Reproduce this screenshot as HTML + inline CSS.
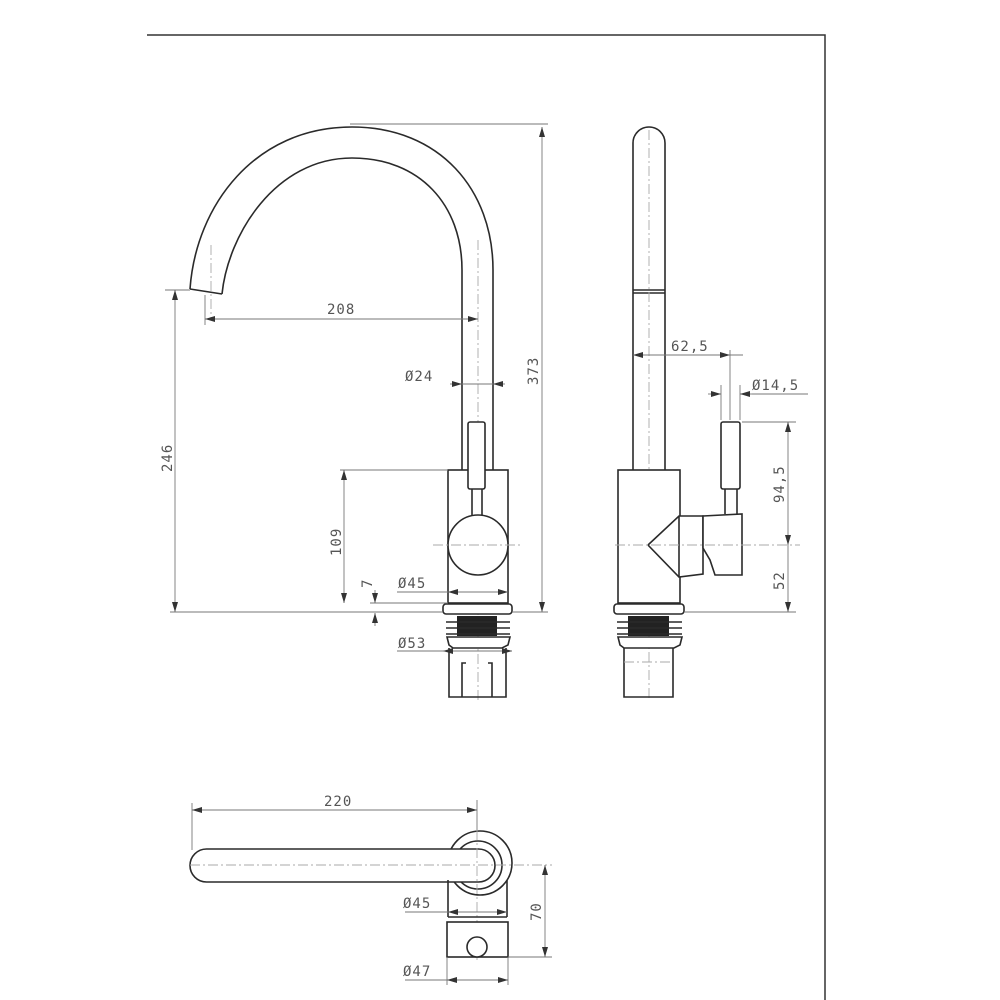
<!DOCTYPE html>
<html><head><meta charset="utf-8"><style>
html,body{margin:0;padding:0;background:#fff;}
svg{display:block;}
.o{fill:none;stroke:#2a2a2a;stroke-width:1.6;}
.ow{fill:#fff;stroke:#2a2a2a;stroke-width:1.6;}
.d{fill:none;stroke:#777;stroke-width:0.9;}
.c{fill:none;stroke:#aaa;stroke-width:0.9;stroke-dasharray:10 3 2 3;}
text{font-family:"DejaVu Sans Mono","Liberation Mono",monospace;font-size:14px;fill:#555;letter-spacing:1px;}
</style></head><body>
<svg width="1000" height="1000" viewBox="0 0 1000 1000">
<defs>
<marker id="a" viewBox="0 0 10 6" refX="10" refY="3" markerWidth="10" markerHeight="6" orient="auto-start-reverse" markerUnits="userSpaceOnUse"><path d="M0,0 L10,3 L0,6 z" fill="#333"/></marker>
</defs>
<!-- frame -->
<path d="M147,35 L825,35 L825,1000" fill="none" stroke="#333" stroke-width="1.5"/>

<!-- ===== LEFT VIEW ===== -->
<path class="o" d="M190,289 C196,205 255,127 352,127 C440,127 493,190 493,270 L493,470"/>
<path class="o" d="M222,294 C228,235 275,158 352,158 C420,158 462,205 462,270 L462,470"/>
<path class="o" d="M190,289 L222,294"/>
<line class="c" x1="211" y1="245" x2="211" y2="320"/>
<line class="c" x1="478" y1="240" x2="478" y2="700"/>
<!-- body -->
<rect class="ow" x="448" y="470" width="60" height="133"/>
<rect class="ow" x="468" y="422" width="17" height="67" rx="2"/>
<line class="o" x1="472" y1="489" x2="472" y2="515"/><line class="o" x1="482" y1="489" x2="482" y2="515"/>
<circle class="ow" cx="478" cy="545" r="30"/>
<line class="c" x1="433" y1="545" x2="522" y2="545"/>
<!-- base left -->
<rect class="ow" x="443" y="604" width="69" height="10" rx="3"/>
<rect x="457" y="616" width="40" height="20" fill="#222"/>
<line class="o" x1="446" y1="622" x2="510" y2="622"/><line class="o" x1="446" y1="628" x2="510" y2="628"/><line class="o" x1="446" y1="634" x2="510" y2="634"/>
<path class="ow" d="M447,637 L510,637 L508,645 L502,648 L453,648 L449,645 z"/>
<path class="o" d="M449,648 L449,697 L506,697 L506,648"/>
<path class="o" d="M462,697 L462,663 L466,663 M492,697 L492,663 L488,663"/>

<!-- left dims -->
<line class="d" x1="350" y1="124" x2="548" y2="124"/>
<line class="d" x1="542" y1="127" x2="542" y2="612" marker-start="url(#a)" marker-end="url(#a)"/>
<text transform="translate(538,385) rotate(-90)">373</text>
<line class="d" x1="165" y1="290" x2="190" y2="290"/>
<line class="d" x1="175" y1="290" x2="175" y2="612" marker-start="url(#a)" marker-end="url(#a)"/>
<text transform="translate(172,472) rotate(-90)">246</text>
<line class="d" x1="170" y1="612" x2="443" y2="612"/>
<line class="d" x1="512" y1="612" x2="548" y2="612"/>
<line class="d" x1="205" y1="295" x2="205" y2="325"/>
<line class="d" x1="205" y1="319" x2="478" y2="319" marker-start="url(#a)" marker-end="url(#a)"/>
<text x="327" y="314">208</text>
<line class="d" x1="450" y1="384" x2="462" y2="384" marker-end="url(#a)"/>
<line class="d" x1="505" y1="384" x2="493" y2="384" marker-end="url(#a)"/>
<line class="d" x1="462" y1="384" x2="493" y2="384"/>
<text x="405" y="381">Ø24</text>
<line class="d" x1="340" y1="470" x2="448" y2="470"/>
<line class="d" x1="344" y1="470" x2="344" y2="603" marker-start="url(#a)" marker-end="url(#a)"/>
<text transform="translate(341,556) rotate(-90)">109</text>
<line class="d" x1="370" y1="603" x2="448" y2="603"/>
<line class="d" x1="375" y1="590" x2="375" y2="603" marker-end="url(#a)"/>
<line class="d" x1="375" y1="626" x2="375" y2="613" marker-end="url(#a)"/>
<text transform="translate(372,588) rotate(-90)">7</text>
<line class="d" x1="397" y1="592" x2="448" y2="592"/>
<line class="d" x1="448" y1="592" x2="508" y2="592" marker-start="url(#a)" marker-end="url(#a)"/>
<text x="398" y="588">Ø45</text>
<line class="d" x1="397" y1="651" x2="443" y2="651"/>
<line class="d" x1="443" y1="651" x2="512" y2="651" marker-start="url(#a)" marker-end="url(#a)"/>
<text x="398" y="648">Ø53</text>

<!-- ===== RIGHT VIEW ===== -->
<path class="ow" d="M633,470 L633,143 A16,16 0 0 1 665,143 L665,470"/>
<path class="o" d="M633,290 L665,290 M633,293 L665,293"/>
<line class="c" x1="649" y1="130" x2="649" y2="700"/>
<rect class="ow" x="618" y="470" width="62" height="133"/>
<path class="ow" d="M648,545 L679,516 L703,516 L703,574 L679,577 z"/>
<path class="ow" d="M703,516 L742,514 L742,575 L715,575 L710,560 L703,548 z"/>
<line class="o" x1="679" y1="516" x2="679" y2="577"/>
<rect class="ow" x="721" y="422" width="19" height="67" rx="2"/>
<line class="o" x1="725" y1="489" x2="725" y2="514"/><line class="o" x1="737" y1="489" x2="737" y2="514"/>
<line class="c" x1="615" y1="545" x2="800" y2="545"/>
<rect class="ow" x="614" y="604" width="70" height="10" rx="3"/>
<rect x="628" y="616" width="41" height="20" fill="#222"/>
<line class="o" x1="617" y1="622" x2="682" y2="622"/><line class="o" x1="617" y1="628" x2="682" y2="628"/><line class="o" x1="617" y1="634" x2="682" y2="634"/>
<path class="ow" d="M618,637 L682,637 L680,645 L674,648 L624,648 L620,645 z"/>
<path class="o" d="M624,648 L624,697 L673,697 L673,648"/>
<line class="c" x1="624" y1="662" x2="673" y2="662"/>
<!-- right dims -->
<line class="d" x1="633" y1="355" x2="743" y2="355" marker-start="url(#a)"/>
<line class="d" x1="718" y1="355" x2="730" y2="355" marker-end="url(#a)"/>
<line class="d" x1="730" y1="350" x2="730" y2="420"/>
<text x="671" y="351">62,5</text>
<line class="d" x1="721" y1="385" x2="721" y2="420"/>
<line class="d" x1="740" y1="385" x2="740" y2="420"/>
<line class="d" x1="708" y1="394" x2="721" y2="394" marker-end="url(#a)"/>
<line class="d" x1="752" y1="394" x2="740" y2="394" marker-end="url(#a)"/>
<line class="d" x1="752" y1="394" x2="808" y2="394"/>
<text x="752" y="390">Ø14,5</text>
<line class="d" x1="742" y1="422" x2="796" y2="422"/>
<line class="d" x1="788" y1="422" x2="788" y2="545" marker-start="url(#a)" marker-end="url(#a)"/>
<text transform="translate(784,503) rotate(-90)">94,5</text>
<line class="d" x1="788" y1="545" x2="788" y2="612" marker-end="url(#a)"/>
<text transform="translate(784,590) rotate(-90)">52</text>
<line class="d" x1="685" y1="612" x2="796" y2="612"/>

<!-- ===== BOTTOM VIEW ===== -->
<circle class="o" cx="480" cy="863" r="32"/>
<circle class="ow" cx="478" cy="865" r="24"/>
<rect class="ow" x="190" y="849" width="305" height="33" rx="16.5"/>
<line class="c" x1="190" y1="865" x2="552" y2="865"/>
<line class="c" x1="477" y1="830" x2="477" y2="960"/>
<line class="o" x1="448" y1="880" x2="448" y2="917"/>
<line class="o" x1="507" y1="880" x2="507" y2="917"/>
<line class="o" x1="448" y1="917" x2="507" y2="917"/>
<rect class="ow" x="447" y="922" width="61" height="35"/>
<circle class="ow" cx="477" cy="947" r="10"/>
<line class="d" x1="192" y1="803" x2="192" y2="850"/>
<line class="d" x1="477" y1="800" x2="477" y2="830"/>
<line class="d" x1="192" y1="810" x2="477" y2="810" marker-start="url(#a)" marker-end="url(#a)"/>
<text x="324" y="806">220</text>
<line class="d" x1="405" y1="912" x2="448" y2="912"/>
<line class="d" x1="448" y1="912" x2="507" y2="912" marker-start="url(#a)" marker-end="url(#a)"/>
<text x="403" y="908">Ø45</text>
<line class="d" x1="447" y1="957" x2="447" y2="985"/>
<line class="d" x1="508" y1="957" x2="508" y2="985"/>
<line class="d" x1="405" y1="980" x2="447" y2="980"/>
<line class="d" x1="447" y1="980" x2="508" y2="980" marker-start="url(#a)" marker-end="url(#a)"/>
<text x="403" y="976">Ø47</text>
<line class="d" x1="508" y1="957" x2="552" y2="957"/>
<line class="d" x1="545" y1="865" x2="545" y2="957" marker-start="url(#a)" marker-end="url(#a)"/>
<text transform="translate(541,921) rotate(-90)">70</text>
</svg>
</body></html>
